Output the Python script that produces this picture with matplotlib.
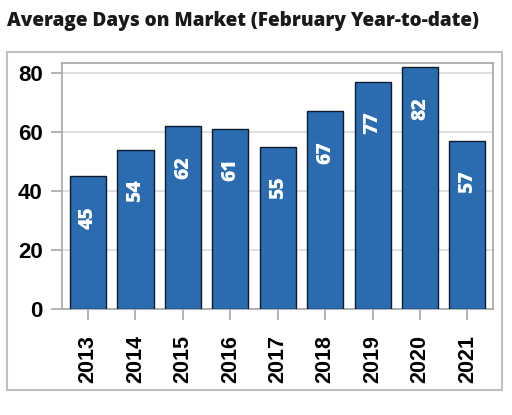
import matplotlib
matplotlib.use("Agg")
import matplotlib.pyplot as plt
from matplotlib.patches import Rectangle

# Data
years = ["2013", "2014", "2015", "2016", "2017", "2018", "2019", "2020", "2021"]
days = [45, 54, 62, 61, 55, 67, 77, 82, 57]
title = "Average Days on Market (February Year-to-date)"

plt.rcParams["font.family"] = ["Liberation Sans", "DejaVu Sans"]
plt.rcParams["font.weight"] = "bold"

W, H = 512, 415
fig = plt.figure(figsize=(W / 100, H / 100), dpi=100)

# axes placed in pixel terms
left, right, top, bottom = 62, 493, 63, 309
ax = fig.add_axes([left / W, 1 - bottom / H, (right - left) / W, (bottom - top) / H])

x = range(len(years))
ax.bar(x, days, width=0.76, color="#2b6cb0", edgecolor="#0d1a2e", linewidth=1.0, zorder=3)

ax.set_xlim(-0.55, 8.54)
ax.set_ylim(0, 83.4)
ax.set_yticks([0, 20, 40, 60, 80])
ax.grid(axis="y", color="#d9d9d9", linewidth=1.2, zorder=0)
ax.set_axisbelow(True)
for s in ax.spines.values():
    s.set_color("#a6a6a6")
    s.set_linewidth(1.2)

ax.set_xticks(list(x))
ax.set_xticklabels(years, rotation=90, fontsize=15.5, fontweight="bold")
ax.tick_params(axis="x", length=8, color="#a6a6a6", width=1.2, pad=11)
ax.tick_params(axis="y", length=8, color="#a6a6a6", width=1.2, pad=6, labelsize=16)

# value labels inside bars
for i, v in enumerate(days):
    ax.annotate(str(v), xy=(i, v), xytext=(0, -29.5), textcoords="offset points",
                rotation=90, ha="center", va="center", color="white",
                fontsize=14, fontweight="heavy", family="Open Sans", zorder=4)

fig.text(7 / W, 1 - 21 / H, title, ha="left", va="center", fontsize=13.7,
         fontweight="heavy", family="Open Sans", color="#1a1a1a")

# light frame around the chart
fig.patches.append(Rectangle((7 / W, 1 - 390 / H), 495 / W, 338 / H, transform=fig.transFigure,
                             fill=False, edgecolor="#c0c0c0", linewidth=1.5))

fig.savefig("out.png", dpi=100)
